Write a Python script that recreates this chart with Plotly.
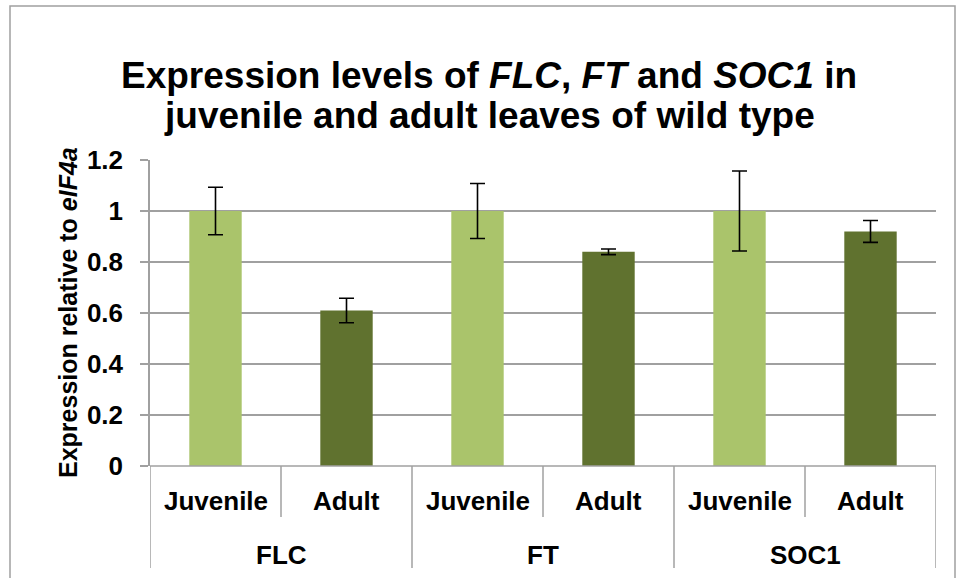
import plotly.graph_objects as go

genes = ["FLC", "FT", "SOC1"]
stages = ["Juvenile", "Adult"]
juvenile_vals = [1.0, 1.0, 1.0]
adult_vals = [0.61, 0.84, 0.92]
juvenile_err = [0.093, 0.108, 0.157]
adult_err = [0.048, 0.011, 0.043]
y_ticks = [0, 0.2, 0.4, 0.6, 0.8, 1, 1.2]
title_lines = ["Expression levels of <i>FLC</i>, <i>FT</i> and <i>SOC1</i> in",
               "juvenile and adult leaves of wild type"]
y_title = "Expression relative to <i>eIF4a</i>"

LIGHT = "#AAC46B"
DARK = "#60722F"
GRID = "#A0A0A0"
FONT = "Liberation Sans, Arial, sans-serif"

W, H = 958, 578
ML, MR, MT, MB = 150, 22, 160, 112
PW = W - ML - MR
PH = H - MT - MB

def py(px):
    return (H - MB - px) / PH

def pxp(px):
    return (px - ML) / PW

n = len(genes)
xj = [2 * i for i in range(n)]
xa = [2 * i + 1 for i in range(n)]

fig = go.Figure()
fig.add_trace(go.Bar(x=xj, y=juvenile_vals, width=0.4, marker=dict(color=LIGHT, line=dict(width=0)),
                     error_y=dict(type="data", array=juvenile_err, visible=True, color="black",
                                  thickness=1.6, width=7.5),
                     name="Juvenile", showlegend=False))
fig.add_trace(go.Bar(x=xa, y=adult_vals, width=0.4, marker=dict(color=DARK, line=dict(width=0)),
                     error_y=dict(type="data", array=adult_err, visible=True, color="black",
                                  thickness=1.6, width=7.5),
                     name="Adult", showlegend=False))

shapes = []
annotations = []
for i, g in enumerate(genes):
    for j, s in enumerate(stages):
        annotations.append(dict(x=2 * i + j, y=py(501), xref="x", yref="paper", text=f"<b>{s}</b>",
                                showarrow=False, font=dict(size=26, color="black", family=FONT),
                                xanchor="center", yanchor="middle"))
    annotations.append(dict(x=2 * i + 0.5, y=py(555), xref="x", yref="paper", text=f"<b>{g}</b>",
                            showarrow=False, font=dict(size=26, color="black", family=FONT),
                            xanchor="center", yanchor="middle"))
    shapes.append(dict(type="line", xref="x", yref="paper", x0=2 * i + 0.5, x1=2 * i + 0.5,
                       y0=py(466), y1=py(517), line=dict(color=GRID, width=1.5)))
for k in range(n + 1):
    xv = 2 * k - 0.5
    shapes.append(dict(type="line", xref="x", yref="paper", x0=xv, x1=xv,
                       y0=py(466), y1=py(568), line=dict(color=GRID, width=1.5)))
shapes.append(dict(type="rect", xref="paper", yref="paper", x0=pxp(10), x1=pxp(955),
                   y0=py(640), y1=py(6), line=dict(color="#A0A0A0", width=1.5), layer="below"))
shapes.append(dict(type="line", xref="paper", yref="paper", x0=0, x1=1, y0=0, y1=0,
                   line=dict(color=GRID, width=1.5)))

for t, ypx in zip(title_lines, [75, 115]):
    annotations.append(dict(x=pxp(489), y=py(ypx), xref="paper", yref="paper", text=f"<b>{t}</b>",
                            showarrow=False, font=dict(size=37, color="black", family=FONT),
                            xanchor="center", yanchor="middle"))

annotations.append(dict(x=pxp(68), y=py(313), xref="paper", yref="paper",
                        text=f"<b>{y_title}</b>", textangle=-90,
                        showarrow=False, font=dict(size=25, color="black", family=FONT),
                        xanchor="center", yanchor="middle"))

fig.update_layout(
    width=W, height=H,
    margin=dict(l=ML, r=MR, t=MT, b=MB),
    paper_bgcolor="white", plot_bgcolor="white",
    xaxis=dict(range=[-0.5, 2 * n - 0.5], showticklabels=False, showgrid=False, zeroline=False,
               showline=False, ticks="", fixedrange=True),
    yaxis=dict(range=[0, 1.2], tickvals=y_ticks, ticktext=[f"<b>{v:g}</b>" for v in y_ticks],
               showgrid=True, gridcolor=GRID, gridwidth=1.5, zeroline=False,
               showline=True, linecolor=GRID, linewidth=1.5, ticks="outside", ticklen=8,
               tickcolor=GRID, tickwidth=1.5, ticklabelstandoff=12,
               tickfont=dict(size=26, color="black", family=FONT)),
    shapes=shapes, annotations=annotations, bargap=0.6,
)

fig.write_html("out.html")
